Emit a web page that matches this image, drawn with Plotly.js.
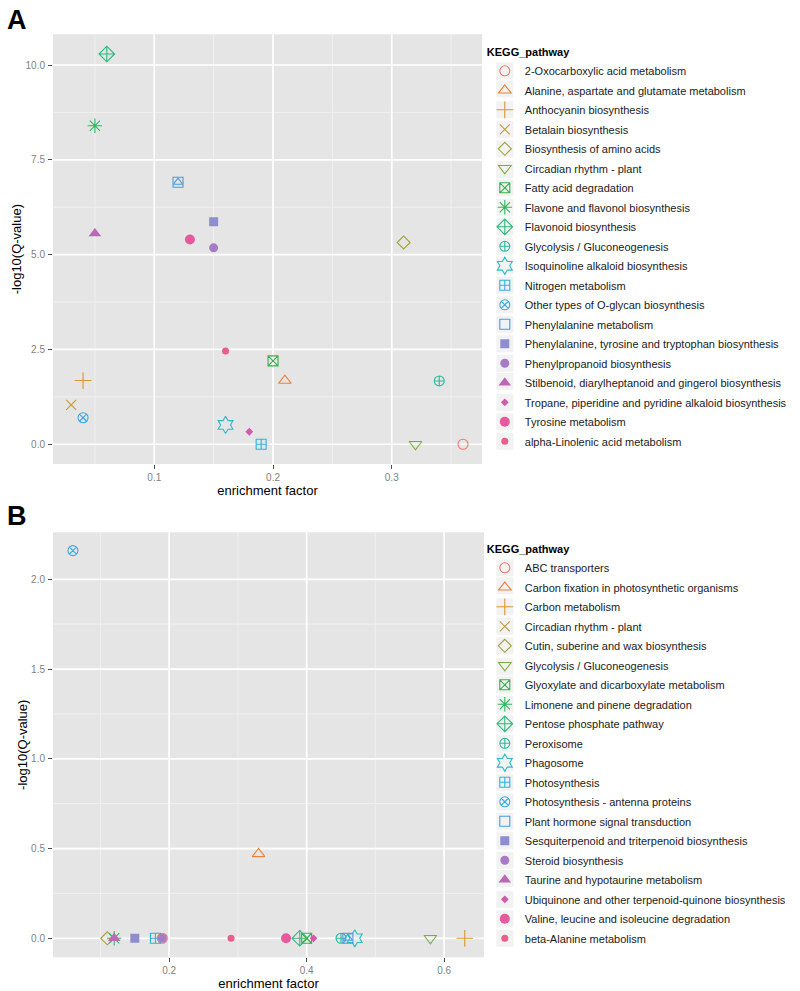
<!DOCTYPE html>
<html>
<head>
<meta charset="utf-8">
<script src="https://cdn.plot.ly/plotly-3.0.1.min.js"></script>
<style>html,body{margin:0;padding:0;background:#fff;}#chart{width:800px;height:991px;}</style>
</head>
<body>
<div id="chart"></div>
<script>
// ---- Panel A data ----
const pathwaysA = [
  "2-Oxocarboxylic acid metabolism",
  "Alanine, aspartate and glutamate metabolism",
  "Anthocyanin biosynthesis",
  "Betalain biosynthesis",
  "Biosynthesis of amino acids",
  "Circadian rhythm - plant",
  "Fatty acid degradation",
  "Flavone and flavonol biosynthesis",
  "Flavonoid biosynthesis",
  "Glycolysis / Gluconeogenesis",
  "Isoquinoline alkaloid biosynthesis",
  "Nitrogen metabolism",
  "Other types of O-glycan biosynthesis",
  "Phenylalanine metabolism",
  "Phenylalanine, tyrosine and tryptophan biosynthesis",
  "Phenylpropanoid biosynthesis",
  "Stilbenoid, diarylheptanoid and gingerol biosynthesis",
  "Tropane, piperidine and pyridine alkaloid biosynthesis",
  "Tyrosine metabolism",
  "alpha-Linolenic acid metabolism"
];
const enrichA = [0.36, 0.21, 0.04, 0.03, 0.31, 0.32, 0.20, 0.05, 0.06, 0.34, 0.16, 0.19, 0.04, 0.12, 0.15, 0.15, 0.05, 0.18, 0.13, 0.16];
const qA      = [0.00, 1.68, 1.68, 1.04, 5.32, 0.00, 2.20, 8.40, 10.29, 1.67, 0.51, 0.00, 0.70, 6.91, 5.87, 5.18, 5.56, 0.33, 5.40, 2.46];

// ---- Panel B data ----
const pathwaysB = [
  "ABC transporters",
  "Carbon fixation in photosynthetic organisms",
  "Carbon metabolism",
  "Circadian rhythm - plant",
  "Cutin, suberine and wax biosynthesis",
  "Glycolysis / Gluconeogenesis",
  "Glyoxylate and dicarboxylate metabolism",
  "Limonene and pinene degradation",
  "Pentose phosphate pathway",
  "Peroxisome",
  "Phagosome",
  "Photosynthesis",
  "Photosynthesis - antenna proteins",
  "Plant hormone signal transduction",
  "Sesquiterpenoid and triterpenoid biosynthesis",
  "Steroid biosynthesis",
  "Taurine and hypotaurine metabolism",
  "Ubiquinone and other terpenoid-quinone biosynthesis",
  "Valine, leucine and isoleucine degradation",
  "beta-Alanine metabolism"
];
const enrichB = [0.19, 0.33, 0.63, 0.40, 0.11, 0.58, 0.40, 0.12, 0.39, 0.45, 0.47, 0.18, 0.06, 0.46, 0.15, 0.19, 0.12, 0.41, 0.37, 0.29];
const qB      = [0.00, 0.47, 0.00, 0.00, 0.00, 0.00, 0.00, 0.00, 0.00, 0.00, 0.00, 0.00, 2.16, 0.00, 0.00, 0.00, 0.00, 0.00, 0.00, 0.00];

// ---- Axis ticks (major and minor grid) ----
const xTicksA = [0.1, 0.2, 0.3];
const xMinorA = [0.05, 0.15, 0.25, 0.35];
const yTicksA = [0.0, 2.5, 5.0, 7.5, 10.0];
const yMinorA = [1.25, 3.75, 6.25, 8.75];
const xTicksB = [0.2, 0.4, 0.6];
const xMinorB = [0.1, 0.3, 0.5];
const yTicksB = [0.0, 0.5, 1.0, 1.5, 2.0];
const yMinorB = [0.25, 0.75, 1.25, 1.75];

// ---- Styles (by legend position) ----
const palette = ["#EE7A72","#E8823A","#D8972E","#C39C36","#A3A33A","#7DAE3C","#3DAF4C","#2FB85C","#2FB97C","#2BBA9C",
                 "#2BBCC2","#2AB4DA","#3BA9E2","#4B9BDB","#8E8DD0","#A77CC5","#BC68B4","#D35AAA","#E65A9D","#EC5D8C"];
const symbols = ["circle-open","triangle-up-open","cross-thin-open","x-thin-open","diamond-open","triangle-down-open",
                 "square-x-open","asterisk-open","diamond-cross-open","circle-cross-open","hexagram-open","square-cross-open",
                 "circle-x-open","square-open","square","circle","triangle-up","diamond","circle","circle"];
const sizes = [10,11,12,10,10,11,10,12,12,10,13,10,10,10,9,9,11,6,10,7];
const filled = [false,false,false,false,false,false,false,false,false,false,false,false,false,false,true,true,true,true,true,true];

const FONT = "Liberation Sans, Arial, Helvetica, sans-serif";

function buildTraces(names, xs, ys, xa, ya, leg, tag) {
  const out = [];
  names.forEach((nm, i) => {
    out.push({
      type: "scatter", mode: "markers",
      x: [xs[i]], y: [ys[i]], name: nm,
      xaxis: xa, yaxis: ya, legend: leg, legendgroup: tag + i,
      hoverinfo: "skip",
      marker: {
        symbol: symbols[i], size: sizes[i], color: palette[i],
        line: {color: palette[i], width: filled[i] ? 0 : 1.1}
      }
    });
    if (symbols[i] === "square-open") {
      // inner triangle of the "square with triangle" shape
      out.push({
        type: "scatter", mode: "markers",
        x: [xs[i]], y: [ys[i]], name: nm, showlegend: false,
        xaxis: xa, yaxis: ya, legend: leg, legendgroup: tag + i,
        hoverinfo: "skip",
        marker: {symbol: "triangle-up-open", size: 8, color: palette[i], line: {color: palette[i], width: 1.1}}
      });
    }
  });
  return out;
}

const traces = buildTraces(pathwaysA, enrichA, qA, "x", "y", "legend", "A")
  .concat(buildTraces(pathwaysB, enrichB, qB, "x2", "y2", "legend2", "B"));

// ggplot-style grid drawn below the markers, from the tick arrays
function gridShapes(xref, yref, xMajor, xMinor, yMajor, yMinor) {
  const s = [];
  const minorLine = {color: "#F0F0F0", width: 1};
  const majorLine = {color: "#FFFFFF", width: 1.7};
  xMinor.forEach(v => s.push({type: "line", layer: "below", xref: xref, yref: yref + " domain", x0: v, x1: v, y0: 0, y1: 1, line: minorLine}));
  yMinor.forEach(v => s.push({type: "line", layer: "below", xref: xref + " domain", yref: yref, x0: 0, x1: 1, y0: v, y1: v, line: minorLine}));
  xMajor.forEach(v => s.push({type: "line", layer: "below", xref: xref, yref: yref + " domain", x0: v, x1: v, y0: 0, y1: 1, line: majorLine}));
  yMajor.forEach(v => s.push({type: "line", layer: "below", xref: xref + " domain", yref: yref, x0: 0, x1: 1, y0: v, y1: v, line: majorLine}));
  return s;
}
const baseShapes = gridShapes("x", "y", xTicksA, xMinorA, yTicksA, yMinorA)
  .concat(gridShapes("x2", "y2", xTicksB, xMinorB, yTicksB, yMinorB));

function axisCommon() {
  return {
    showgrid: false,
    zeroline: false, showline: false,
    ticks: "outside", ticklen: 4, tickwidth: 1, tickcolor: "#4D4D4D",
    tickfont: {family: FONT, size: 10, color: "#7F7F7F"},
    tickformat: ".1f", tickmode: "array",
    automargin: false, fixedrange: true
  };
}

const xA = Object.assign(axisCommon(), {
  domain: [0.06625, 0.6025], range: [0.0147, 0.376], tickvals: xTicksA, anchor: "y", ticklabelstandoff: 0,
  title: {text: "enrichment factor", font: {family: FONT, size: 13, color: "#000"}, standoff: 3}
});
const yA = Object.assign(axisCommon(), {
  domain: [0.5318, 0.9654], range: [-0.52, 10.81], tickvals: yTicksA, anchor: "x", ticklabelstandoff: 1,
  title: {text: "-log10(Q-value)", font: {family: FONT, size: 13, color: "#000"}, standoff: 0}
});
const xB = Object.assign(axisCommon(), {
  domain: [0.06625, 0.605], range: [0.031, 0.658], tickvals: xTicksB, anchor: "y2", ticklabelstandoff: 0,
  title: {text: "enrichment factor", font: {family: FONT, size: 13, color: "#000"}, standoff: 3}
});
const yB = Object.assign(axisCommon(), {
  domain: [0.0340, 0.4629], range: [-0.106, 2.262], tickvals: yTicksB, anchor: "x2", ticklabelstandoff: 1,
  title: {text: "-log10(Q-value)", font: {family: FONT, size: 13, color: "#000"}, standoff: 0}
});

function legendCommon(ytop) {
  return {
    x: 0.606, xanchor: "left", y: ytop, yanchor: "top",
    bgcolor: "rgba(255,255,255,0)", borderwidth: 0,
    font: {family: FONT, size: 11, color: "#1A1A1A"},
    title: {text: "KEGG_pathway", font: {family: FONT, size: 11, color: "#000", weight: "bold"}},
    tracegroupgap: 0.5, traceorder: "grouped", itemclick: false, itemdoubleclick: false
  };
}

const layout = {
  width: 800, height: 991,
  margin: {l: 0, r: 0, t: 0, b: 0},
  paper_bgcolor: "#FFFFFF", plot_bgcolor: "#E5E5E5",
  font: {family: FONT},
  showlegend: true,
  xaxis: xA, yaxis: yA, xaxis2: xB, yaxis2: yB,
  shapes: baseShapes,
  legend: legendCommon(1 - 42 / 991),
  legend2: legendCommon(1 - 539 / 991),
  annotations: [
    {text: "<b>A</b>", xref: "paper", yref: "paper", x: 0.006, y: 1 - 3 / 991, xanchor: "left", yanchor: "top",
     showarrow: false, font: {family: FONT, size: 27, color: "#000"}},
    {text: "<b>B</b>", xref: "paper", yref: "paper", x: 0.006, y: 1 - 499 / 991, xanchor: "left", yanchor: "top",
     showarrow: false, font: {family: FONT, size: 27, color: "#000"}}
  ]
};

const gd = document.getElementById("chart");
Plotly.newPlot(gd, traces, layout, {displayModeBar: false, staticPlot: true}).then(() => {
  // light grey key backgrounds behind each legend symbol (ggplot style)
  const base = gd.getBoundingClientRect();
  const W = layout.width, H = layout.height;
  const keys = [];
  gd.querySelectorAll(".legendpoints").forEach(lp => {
    const r = lp.getBoundingClientRect();
    if (r.width === 0) return;
    const cx = r.left + r.width / 2 - base.left;
    const cy = r.top + r.height / 2 - base.top;
    const h = 8.5;
    keys.push({
      type: "rect", xref: "paper", yref: "paper", layer: "above",
      x0: (cx - h) / W, x1: (cx + h) / W, y0: 1 - (cy + h) / H, y1: 1 - (cy - h) / H,
      fillcolor: "#F2F2F2", line: {width: 0}
    });
  });
  return Plotly.relayout(gd, {shapes: baseShapes.concat(keys)});
});
</script>
</body>
</html>
